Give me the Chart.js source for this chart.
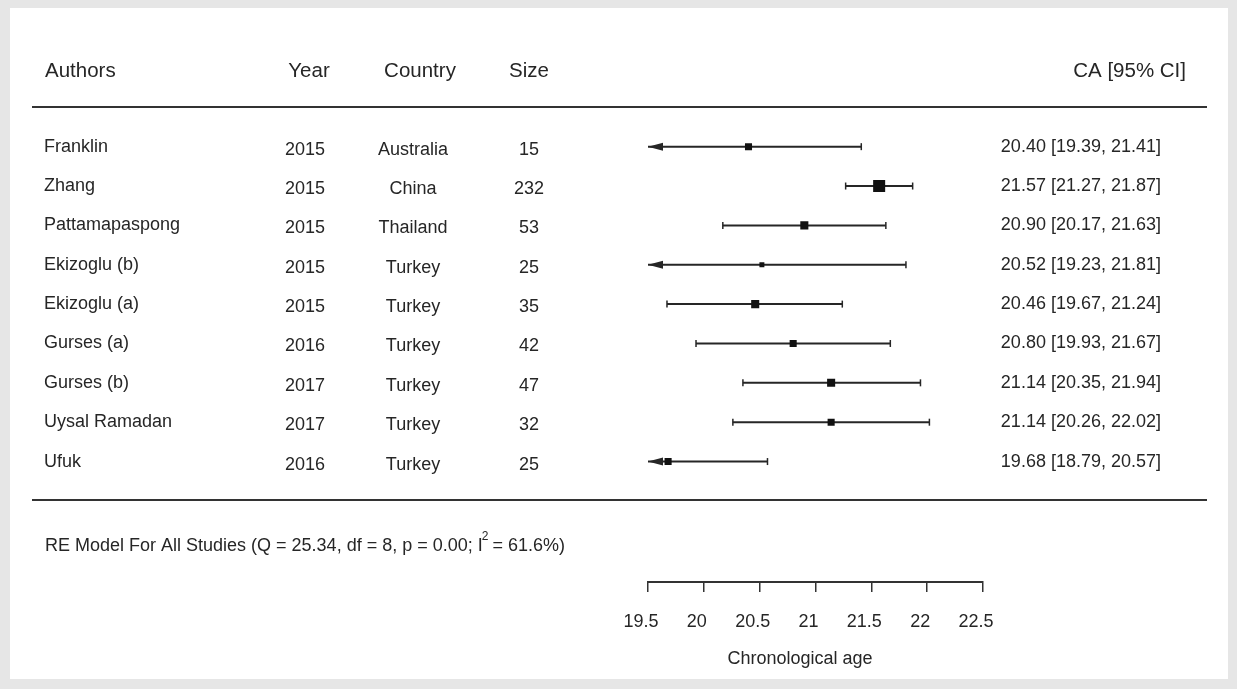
<!DOCTYPE html>
<html>
<head>
<meta charset="utf-8">
<script src="https://cdn.jsdelivr.net/npm/chart.js@4"></script>
<style>
    html, body { margin: 0; padding: 0; background: #e6e6e6; }
    #wrap { position: relative; width: 1237px; height: 689px; }
    #panel { position: absolute; left: 10px; top: 8px; width: 1218px; height: 671px; background: #fff; }
    #holder { position: absolute; left: 0; top: 0; width: 1237px; height: 689px; }
</style>
</head>
<body>
<div id="wrap">
    <div id="panel"></div>
    <div id="holder"><canvas id="forestChart"></canvas></div>
</div>
<script>
// Study data
const authors = ['Franklin', 'Zhang', 'Pattamapaspong', 'Ekizoglu (b)', 'Ekizoglu (a)', 'Gurses (a)', 'Gurses (b)', 'Uysal Ramadan', 'Ufuk'];
const years = [2015, 2015, 2015, 2015, 2015, 2016, 2017, 2017, 2016];
const countries = ['Australia', 'China', 'Thailand', 'Turkey', 'Turkey', 'Turkey', 'Turkey', 'Turkey', 'Turkey'];
const sizes = [15, 232, 53, 25, 35, 42, 47, 32, 25];
const ca = [20.40, 21.57, 20.90, 20.52, 20.46, 20.80, 21.14, 21.14, 19.68];
const lower = [19.39, 21.27, 20.17, 19.23, 19.67, 19.93, 20.35, 20.26, 18.79];
const upper = [21.41, 21.87, 21.63, 21.81, 21.24, 21.67, 21.94, 22.02, 20.57];
const xTicks = [19.5, 20, 20.5, 21, 21.5, 22, 22.5];
const headers = ['Authors', 'Year', 'Country', 'Size', 'CA [95% CI]'];
const axisTitle = 'Chronological age';
const modelText = 'RE Model For All Studies (Q = 25.34, df = 8, p = 0.00; I';
const modelTextEnd = ' = 61.6%)';

const FONT = "'Liberation Sans', Arial, sans-serif";
const INK = '#262626';

function txt(ctx, s, x, y, align, size) {
    ctx.font = size + 'px ' + FONT;
    ctx.textAlign = align;
    ctx.textBaseline = 'middle';
    ctx.fillText(s, x, y);
}

const forestTable = {
    id: 'forestTable',
    beforeDatasetsDraw(chart) {
        const { ctx, scales: { x, y } } = chart;
        ctx.save();
        ctx.strokeStyle = INK;
        ctx.fillStyle = INK;
        ca.forEach((v, i) => {
            const py = y.getPixelForValue(i + 1);
            const x0 = x.getPixelForValue(Math.max(lower[i], x.min));
            const x1 = x.getPixelForValue(Math.min(upper[i], x.max));
            ctx.lineWidth = 2;
            ctx.beginPath();
            ctx.moveTo(x0, py);
            ctx.lineTo(x1, py);
            ctx.stroke();
            ctx.lineWidth = 1.5;
            ctx.beginPath();
            ctx.moveTo(x1, py - 3.5);
            ctx.lineTo(x1, py + 3.5);
            ctx.stroke();
            if (lower[i] < x.min) {
                // clipped interval: arrow at the left edge
                ctx.beginPath();
                ctx.moveTo(x0, py);
                ctx.lineTo(x0 + 15, py - 4);
                ctx.lineTo(x0 + 15, py + 4);
                ctx.closePath();
                ctx.fill();
            } else {
                ctx.beginPath();
                ctx.moveTo(x0, py - 3.5);
                ctx.lineTo(x0, py + 3.5);
                ctx.stroke();
            }
        });
        ctx.restore();
    },
    afterDraw(chart) {
        const { ctx, scales: { y } } = chart;
        ctx.save();
        ctx.fillStyle = INK;

        // header row
        txt(ctx, headers[0], 45, 71, 'left', 20.5);
        txt(ctx, headers[1], 309, 71, 'center', 20.5);
        txt(ctx, headers[2], 420, 71, 'center', 20.5);
        txt(ctx, headers[3], 529, 71, 'center', 20.5);
        txt(ctx, headers[4], 1186, 71, 'right', 20.5);

        // rules
        ctx.strokeStyle = '#333';
        ctx.lineWidth = 2;
        [107, 500].forEach(ly => {
            ctx.beginPath();
            ctx.moveTo(32, ly);
            ctx.lineTo(1207, ly);
            ctx.stroke();
        });

        // study rows
        authors.forEach((a, i) => {
            const py = y.getPixelForValue(i + 1);
            txt(ctx, a, 44, py, 'left', 18);
            txt(ctx, String(years[i]), 305, py + 3, 'center', 18);
            txt(ctx, countries[i], 413, py + 3, 'center', 18);
            txt(ctx, String(sizes[i]), 529, py + 3, 'center', 18);
            const s = ca[i].toFixed(2) + ' [' + lower[i].toFixed(2) + ', ' + upper[i].toFixed(2) + ']';
            txt(ctx, s, 1161, py, 'right', 18);
        });

        // model summary
        txt(ctx, modelText, 45, 546, 'left', 18);
        const w = ctx.measureText(modelText).width;
        txt(ctx, '2', 45 + w - 1, 537, 'left', 12);
        const w2 = ctx.measureText('2').width;
        txt(ctx, modelTextEnd, 45 + w + w2 - 2, 546, 'left', 18);

        // axis title
        txt(ctx, axisTitle, 800, 659, 'center', 18);
        ctx.restore();
    }
};

new Chart(document.getElementById('forestChart').getContext('2d'), {
    type: 'scatter',
    data: {
        datasets: [{
            label: 'CA',
            data: ca.map((v, i) => ({ x: v, y: i + 1 })),
            pointStyle: 'rect',
            pointRadius: [5, 8.5, 5.7, 3.5, 5.7, 5, 5.7, 5, 5],
            pointHoverRadius: [5, 8.5, 5.7, 3.5, 5.7, 5, 5.7, 5, 5],
            backgroundColor: '#111',
            borderColor: '#111',
            borderWidth: 0
        }]
    },
    options: {
        responsive: true,
        maintainAspectRatio: false,
        animation: false,
        layout: {
            padding: { left: 648, right: 254, top: 107.3, bottom: 0 }
        },
        plugins: {
            legend: { display: false },
            tooltip: { enabled: false }
        },
        scales: {
            x: {
                type: 'linear',
                min: 19.5,
                max: 22.5,
                afterBuildTicks: (scale) => {
                    scale.ticks = xTicks.map(v => ({ value: v }));
                },
                afterFit: (scale) => {
                    scale.height = 107;
                },
                ticks: {
                    autoSkip: false,
                    maxRotation: 0,
                    padding: 19,
                    labelOffset: -7,
                    color: INK,
                    font: { family: FONT, size: 18 },
                    callback: (value) => String(value)
                },
                grid: {
                    drawOnChartArea: false,
                    drawTicks: true,
                    tickLength: 10,
                    color: '#333',
                    lineWidth: 1.5
                },
                border: { display: true, color: '#333', width: 2 },
                title: { display: false }
            },
            y: {
                display: false,
                reverse: true,
                min: 0,
                max: 12.06
            }
        }
    },
    plugins: [forestTable]
});
</script>
</body>
</html>
